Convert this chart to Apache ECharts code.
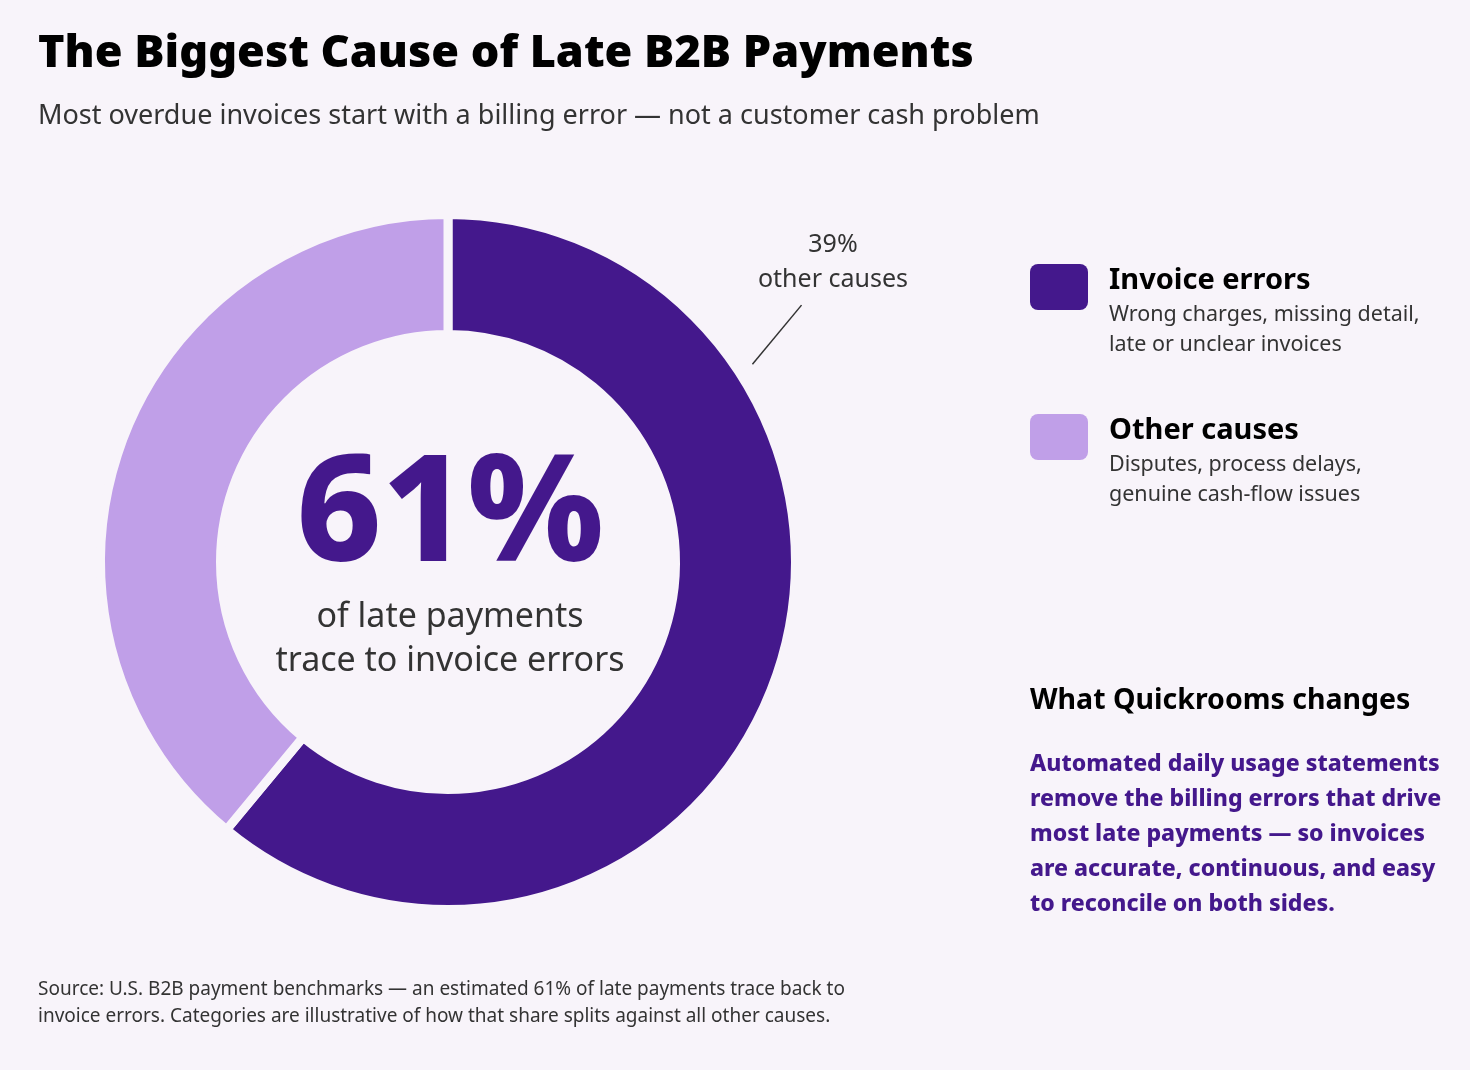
<!DOCTYPE html>
<html><head><meta charset="utf-8">
<script src="https://cdn.jsdelivr.net/npm/echarts@6/dist/echarts.min.js"></script>
<style>html,body{margin:0;padding:0;background:#f8f4fa;}#c{width:1470px;height:1070px;}</style>
</head><body><div id="c"></div>
<script>
const categories = ['Invoice errors', 'Other causes'];
const shares = [61, 39];
const colors = ['#44188c', '#c09fe8'];
const descriptions = [
  ['Wrong charges, missing detail,', 'late or unclear invoices'],
  ['Disputes, process delays,', 'genuine cash-flow issues']
];
const titleText = 'The Biggest Cause of Late B2B Payments';
const subtitleText = 'Most overdue invoices start with a billing error \u2014 not a customer cash problem';
const calloutLines = ['39%', 'other causes'];
const centerSub = ['of late payments', 'trace to invoice errors'];
const sideHeading = 'What Quickrooms changes';
const sideBody = ['Automated daily usage statements', 'remove the billing errors that drive', 'most late payments \u2014 so invoices', 'are accurate, continuous, and easy', 'to reconcile on both sides.'];
const sourceLines = ['Source: U.S. B2B payment benchmarks \u2014 an estimated 61% of late payments trace back to', 'invoice errors. Categories are illustrative of how that share splits against all other causes.'];

const FONT = '"Noto Sans", Lato, sans-serif';
const BG = '#f8f4fa';
const CX = 448, CY = 562, R_IN = 227.5, R_OUT = 347.5;

const chart = echarts.init(document.getElementById('c'), null, {renderer: 'canvas'});

const g = [];
g.push({type: 'text', x: 38, y: 54, style: {text: titleText, font: '900 45px ' + FONT, fill: '#000', verticalAlign: 'middle'}});
g.push({type: 'text', x: 38, y: 116, style: {text: subtitleText, font: '400 27px ' + FONT, fill: '#333', verticalAlign: 'middle'}});
// center
g.push({type: 'text', x: CX + 2, y: 519, style: {text: shares[0] + '%', font: '800 148px ' + FONT, fill: colors[0], align: 'center', verticalAlign: 'middle'}});
centerSub.forEach((t, i) => g.push({type: 'text', x: CX + 2, y: 617 + i * 44, style: {text: t, font: '400 34px ' + FONT, fill: '#333', align: 'center', verticalAlign: 'middle'}}));
// callout
calloutLines.forEach((t, i) => g.push({type: 'text', x: 833, y: 245 + i * 35, style: {text: t, font: '400 25px ' + FONT, fill: '#333', align: 'center', verticalAlign: 'middle'}}));
const a1 = 57 * Math.PI / 180, a2 = 54 * Math.PI / 180;
g.push({type: 'line', shape: {x1: CX + Math.sin(a1) * 363, y1: CY - Math.cos(a1) * 363, x2: CX + Math.sin(a2) * 437, y2: CY - Math.cos(a2) * 437}, style: {stroke: '#333', lineWidth: 1.5}});
// legend
categories.forEach((c, i) => {
  const y0 = 264 + i * 150;
  g.push({type: 'rect', shape: {x: 1030, y: y0, width: 58, height: 46, r: 8}, style: {fill: colors[i]}});
  g.push({type: 'text', x: 1109, y: y0 + 17, style: {text: c, font: '700 29px ' + FONT, fill: '#000', verticalAlign: 'middle'}});
  descriptions[i].forEach((d, j) => g.push({type: 'text', x: 1109, y: y0 + 51 + j * 30, style: {text: d, font: '400 21.5px ' + FONT, fill: '#333', verticalAlign: 'middle'}}));
});
g.push({type: 'text', x: 1030, y: 701, style: {text: sideHeading, font: '700 28.5px ' + FONT, fill: '#000', verticalAlign: 'middle'}});
sideBody.forEach((t, i) => g.push({type: 'text', x: 1030, y: 764 + i * 35, style: {text: t, font: '800 23px ' + FONT, fill: colors[0], verticalAlign: 'middle'}}));
sourceLines.forEach((t, i) => g.push({type: 'text', x: 38, y: 990 + i * 27, style: {text: t, font: '400 19px ' + FONT, fill: '#333', verticalAlign: 'middle'}}));

chart.setOption({
  backgroundColor: BG,
  animation: false,
  series: [{
    type: 'pie',
    center: [CX, CY],
    radius: [R_IN, R_OUT],
    startAngle: 90,
    clockwise: true,
    label: {show: false},
    labelLine: {show: false},
    silent: true,
    itemStyle: {borderColor: BG, borderWidth: 9},
    data: categories.map((c, i) => ({name: c, value: shares[i], itemStyle: {color: colors[i]}}))
  }],
  graphic: g
});
</script></body></html>
